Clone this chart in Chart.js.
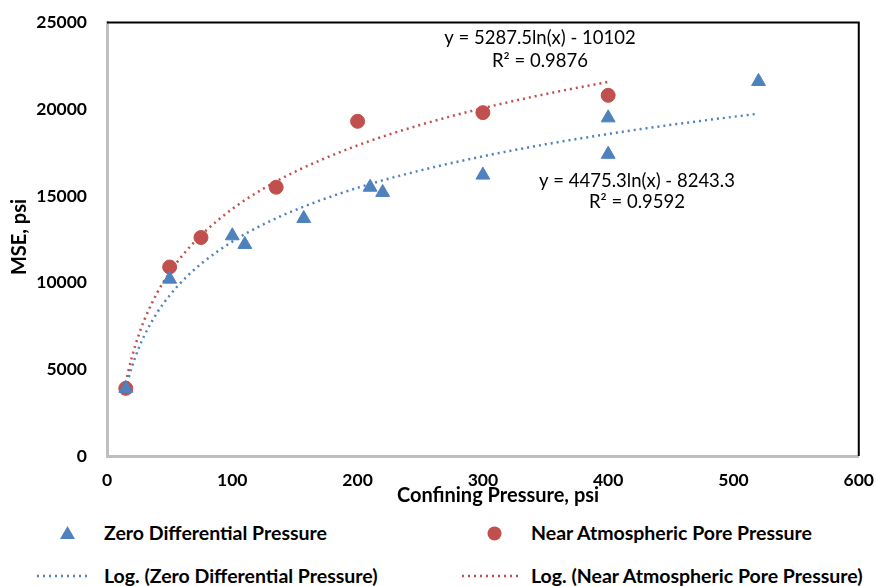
<!DOCTYPE html>
<html lang="en">
<head>
  <meta charset="UTF-8" />
  <title>MSE vs Confining Pressure</title>
  <script src="https://cdn.jsdelivr.net/npm/chart.js@4.4.0"></script>
  <style>
    body { margin: 0; background: #fff; font-family: Lato, "Liberation Sans", sans-serif; }
    #wrap { position: relative; width: 880px; height: 586px; overflow: hidden; }
    #box { position: absolute; left: 0; top: -8px; width: 888px; height: 518px; }
    .leg { position: absolute; font-weight: bold; font-size: 19.5px; color: #000; white-space: nowrap; line-height: 22px; }
    .mk { position: absolute; }
  </style>
</head>
<body>
<div id="wrap">
  <div id="box"><canvas id="mseChart"></canvas></div>

  <svg class="mk" style="left:60px;top:526px" width="15" height="13"><polygon points="7.5,0 15,13 0,13" fill="#4f81bd"/></svg>
  <div class="leg" style="left:104px;top:522px">Zero Differential Pressure</div>
  <svg class="mk" style="left:487px;top:526px" width="15" height="15"><circle cx="7.5" cy="7.5" r="7" fill="#c0504d"/></svg>
  <div class="leg" style="left:531px;top:522px">Near Atmospheric Pore Pressure</div>

  <svg class="mk" style="left:36px;top:572px" width="56" height="8"><line x1="1" y1="4" x2="55" y2="4" stroke="#4f81bd" stroke-width="2.5" stroke-dasharray="2,4"/></svg>
  <div class="leg" style="left:104px;top:565px">Log. (Zero Differential Pressure)</div>
  <svg class="mk" style="left:461px;top:572px" width="60" height="8"><line x1="1" y1="4" x2="59" y2="4" stroke="#c0504d" stroke-width="2.5" stroke-dasharray="2,4"/></svg>
  <div class="leg" style="left:531px;top:565px">Log. (Near Atmospheric Pore Pressure)</div>
</div>

<script>
  // measured points
  const zeroX = [15, 50, 100, 110, 157, 210, 220, 300, 400, 400, 520];
  const zeroY = [3900, 10200, 12700, 12200, 13700, 15500, 15200, 16200, 19500, 17400, 21600];
  const nearX = [15, 50, 75, 135, 200, 300, 400];
  const nearY = [3900, 10900, 12600, 15500, 19300, 19800, 20800];

  // trend lines
  const zeroTrendX = [15, 17, 20, 25, 30, 40, 50, 60, 75, 100, 125, 150, 200, 250, 300, 350, 400, 450, 520];
  const zeroTrendY = [3876, 4436, 5163, 6162, 6978, 8266, 9264, 10080, 11079, 12366, 13365, 14181, 15468, 16467, 17283, 17973, 18570, 19097, 19745];
  const nearTrendX = [15, 17, 20, 25, 30, 40, 50, 60, 75, 100, 125, 150, 200, 250, 300, 350, 400];
  const nearTrendY = [4217, 4879, 5738, 6918, 7882, 9403, 10583, 11547, 12727, 14248, 15428, 16392, 17913, 19093, 20057, 20872, 21578];

  const xTicks = [0, 100, 200, 300, 400, 500, 600];
  const yTicks = [0, 5000, 10000, 15000, 20000, 25000];

  const blue = '#4f81bd', red = '#c0504d';
  const pts = (xs, ys) => xs.map((x, i) => ({ x: x, y: ys[i] }));

  // canvas sits 8px above the page top
  const dy = 8;

  const extras = {
    id: 'extras',
    afterDraw(chart) {
      const c = chart.ctx, a = chart.chartArea;
      c.save();
      // black frame top and right
      c.strokeStyle = '#000';
      c.lineWidth = 2;
      c.beginPath();
      c.moveTo(a.left, a.top); c.lineTo(a.right, a.top); c.lineTo(a.right, a.bottom);
      c.stroke();

      c.fillStyle = '#000';
      c.textAlign = 'center';
      c.textBaseline = 'middle';
      c.font = '18.5px Lato, "Liberation Sans", sans-serif';
      c.fillText('y = 5287.5ln(x) - 10102', 540, 38 + dy);
      c.fillText('R² = 0.9876', 540, 61 + dy);
      c.fillText('y = 4475.3ln(x) - 8243.3', 637, 181 + dy);
      c.fillText('R² = 0.9592', 637, 202 + dy);

      c.font = 'bold 20px Lato, "Liberation Sans", sans-serif';
      c.fillText('Confining Pressure, psi', 498, 496 + dy);
      c.translate(20, 237 + dy);
      c.rotate(-Math.PI / 2);
      c.fillText('MSE, psi', 0, 0);
      c.restore();
    }
  };

  new Chart(document.getElementById('mseChart'), {
    type: 'scatter',
    data: {
      datasets: [
        { label: 'Zero Differential Pressure', data: pts(zeroX, zeroY), pointStyle: 'triangle',
          pointRadius: 8, backgroundColor: blue, borderColor: blue, order: 0 },
        { label: 'Near Atmospheric Pore Pressure', data: pts(nearX, nearY), pointStyle: 'circle',
          pointRadius: 7, backgroundColor: red, borderColor: red, order: 0 },
        { label: 'Log. (Zero Differential Pressure)', data: pts(zeroTrendX, zeroTrendY), showLine: true,
          pointRadius: 0, borderColor: blue, borderWidth: 2.5, borderDash: [2, 4], cubicInterpolationMode: 'monotone', order: 1 },
        { label: 'Log. (Near Atmospheric Pore Pressure)', data: pts(nearTrendX, nearTrendY), showLine: true,
          pointRadius: 0, borderColor: red, borderWidth: 2.5, borderDash: [2, 4], cubicInterpolationMode: 'monotone', order: 1 }
      ]
    },
    options: {
      responsive: true,
      maintainAspectRatio: false,
      animation: false,
      layout: { padding: { top: 12, right: 12, left: 0, bottom: 0 } },
      plugins: { legend: { display: false }, tooltip: { enabled: false } },
      scales: {
        x: {
          type: 'linear', min: 0, max: 600,
          afterBuildTicks: s => { s.ticks = xTicks.map(v => ({ value: v })); },
          afterFit: s => { s.height = 54; },
          grid: { display: false, drawTicks: false },
          border: { color: '#bfbfbf', width: 3 },
          ticks: { color: '#000', padding: 14, maxRotation: 0, callback: v => String(v),
                   font: { family: 'Lato', size: 17.5, weight: 'bold' } }
        },
        y: {
          min: 0, max: 25000,
          afterBuildTicks: s => { s.ticks = yTicks.map(v => ({ value: v })); },
          afterFit: s => { s.width = 107; },
          grid: { display: false, drawTicks: false },
          border: { color: '#bfbfbf', width: 3 },
          ticks: { color: '#000', padding: 20, callback: v => String(v),
                   font: { family: 'Lato', size: 17.5, weight: 'bold' } }
        }
      }
    },
    plugins: [extras]
  });
</script>
</body>
</html>
